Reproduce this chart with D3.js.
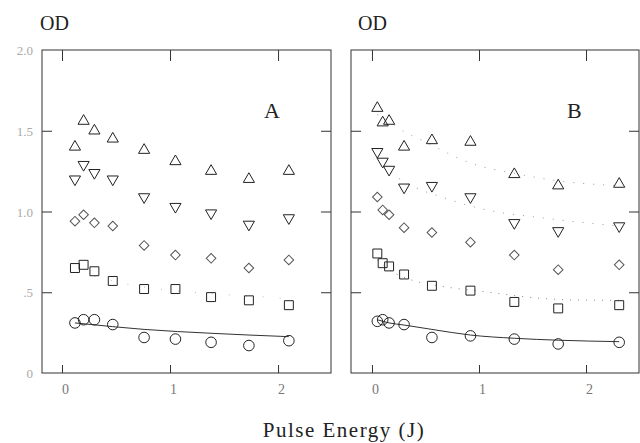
<!DOCTYPE html>
<html>
<head>
<meta charset="utf-8">
<script src="https://cdn.jsdelivr.net/npm/d3@7"></script>
<style>
  html, body { margin: 0; padding: 0; background: #fff; }
  svg { display: block; }
  text { font-family: "Liberation Serif", "DejaVu Serif", serif; }
</style>
</head>
<body>
<svg id="chart" width="640" height="443"></svg>
<script>
// Pulse energies (J) for each panel
const energyA = [0.12, 0.20, 0.30, 0.47, 0.76, 1.05, 1.38, 1.73, 2.10];
const energyB = [0.05, 0.10, 0.16, 0.30, 0.56, 0.92, 1.33, 1.74, 2.31];

// Optical density series, panel A
const triUpA    = [1.40, 1.56, 1.50, 1.45, 1.38, 1.31, 1.25, 1.20, 1.25];
const triDownA  = [1.20, 1.29, 1.24, 1.20, 1.09, 1.03, 0.99, 0.92, 0.96];
const diamondA  = [0.94, 0.98, 0.93, 0.91, 0.79, 0.73, 0.71, 0.65, 0.70];
const squareA   = [0.65, 0.67, 0.63, 0.57, 0.52, 0.52, 0.47, 0.45, 0.42];
const circleA   = [0.31, 0.33, 0.33, 0.30, 0.22, 0.21, 0.19, 0.17, 0.20];

// Optical density series, panel B
const triUpB    = [1.64, 1.55, 1.56, 1.40, 1.44, 1.43, 1.23, 1.16, 1.17];
const triDownB  = [1.37, 1.31, 1.26, 1.15, 1.16, 1.09, 0.93, 0.88, 0.91];
const diamondB  = [1.09, 1.01, 0.98, 0.90, 0.87, 0.81, 0.73, 0.64, 0.67];
const squareB   = [0.74, 0.68, 0.66, 0.61, 0.54, 0.51, 0.44, 0.40, 0.42];
const circleB   = [0.32, 0.33, 0.31, 0.30, 0.22, 0.23, 0.21, 0.18, 0.19];

// Fitted curves
const circleFitAx = [0.12, 0.47, 0.76, 1.38, 2.10];
const circleFitAy = [0.31, 0.287, 0.27, 0.246, 0.225];
const squareFitAx = [0.30, 0.60, 0.90, 1.40, 1.90, 2.10];
const squareFitAy = [0.60, 0.55, 0.52, 0.49, 0.47, 0.46];

const circleFitBx = [0.05, 0.16, 0.30, 0.56, 0.92, 1.33, 1.74, 2.31];
const circleFitBy = [0.33, 0.31, 0.297, 0.27, 0.235, 0.215, 0.203, 0.194];
const triUpFitBx  = [0.05, 0.16, 0.24, 0.50, 0.92, 1.38, 1.74, 2.31];
const triUpFitBy  = [1.60, 1.56, 1.52, 1.43, 1.30, 1.23, 1.19, 1.16];
const triDownFitBx = [0.05, 0.20, 0.40, 0.65, 1.00, 1.60, 2.31];
const triDownFitBy = [1.33, 1.23, 1.15, 1.09, 1.02, 0.96, 0.91];
const squareFitBx = [0.05, 0.16, 0.37, 0.68, 1.06, 1.55, 1.90, 2.31];
const squareFitBy = [0.70, 0.64, 0.576, 0.534, 0.503, 0.464, 0.452, 0.45];

// Axis ticks
const xTicks = [0, 1, 2];
const xTickLabels = ["0", "1", "2"];
const yTicks = [0, 0.5, 1.0, 1.5, 2.0];
const yTickLabels = ["0", ".5", "1.0", "1.5", "2.0"];

const svg = d3.select("#chart");
const ink = "#222";

const y = d3.scaleLinear().domain([0, 2]).range([373, 50]);

const panels = [
  {
    x: d3.scaleLinear().domain([-0.185, 2.49]).range([42, 331]),
    energy: energyA,
    series: [triUpA, triDownA, diamondA, squareA, circleA],
    solid: [[circleFitAx, circleFitAy]],
    dotted: [[squareFitAx, squareFitAy, "#bbb", "1,16"]],
    letter: "A", letterX: 264, odX: 40, yLabels: true
  },
  {
    x: d3.scaleLinear().domain([-0.196, 2.495]).range([351, 639]),
    energy: energyB,
    series: [triUpB, triDownB, diamondB, squareB, circleB],
    solid: [[circleFitBx, circleFitBy]],
    dotted: [
      [triUpFitBx, triUpFitBy, "#999", "1,9"],
      [triDownFitBx, triDownFitBy, "#999", "1,9"],
      [squareFitBx, squareFitBy, "#888", "1,7"]
    ],
    letter: "B", letterX: 567, odX: 358, yLabels: false
  }
];

// Marker shapes: up triangle, down triangle, diamond, square, circle
const shapes = [
  { type: d3.symbolTriangle, size: 54, rotate: 0, stroke: ink },
  { type: d3.symbolTriangle, size: 54, rotate: 180, stroke: ink },
  { type: d3.symbolSquare, size: 46, rotate: 45, stroke: "#555" },
  { type: d3.symbolSquare, size: 80, rotate: 0, stroke: ink },
  { type: d3.symbolCircle, size: 88, rotate: 0, stroke: ink }
];

panels.forEach(p => {
  const g = svg.append("g");
  const [x0, x1] = p.x.range();

  // frame
  g.append("rect")
    .attr("x", x0).attr("y", y(2))
    .attr("width", x1 - x0).attr("height", y(0) - y(2))
    .attr("fill", "none").attr("stroke", "#333").attr("stroke-width", 1);

  // x ticks (bottom and top, pointing inward)
  const xb = g.append("g").attr("transform", `translate(0,${y(0)})`)
    .call(d3.axisBottom(p.x).tickValues(xTicks).tickSizeInner(-8).tickSizeOuter(0)
      .tickPadding(11).tickFormat((d, i) => xTickLabels[i]));
  xb.select(".domain").remove();
  xb.selectAll("line").attr("stroke", "#333");
  xb.selectAll("text").attr("font-size", 14).attr("fill", "#777")
    .attr("font-family", "Liberation Serif, serif").attr("dx", 3);

  const xt = g.append("g").attr("transform", `translate(0,${y(2)})`)
    .call(d3.axisTop(p.x).tickValues(xTicks).tickSizeInner(-11).tickSizeOuter(0).tickFormat(""));
  xt.select(".domain").remove();
  xt.selectAll("line").attr("stroke", "#333");

  // y ticks (left and right, pointing inward)
  const yl = g.append("g").attr("transform", `translate(${x0},0)`)
    .call(d3.axisLeft(y).tickValues([0.5, 1.0, 1.5]).tickSizeInner(-10).tickSizeOuter(0).tickFormat(""));
  yl.select(".domain").remove();
  yl.selectAll("line").attr("stroke", "#333");

  const yr = g.append("g").attr("transform", `translate(${x1},0)`)
    .call(d3.axisRight(y).tickValues([0.5, 1.0, 1.5]).tickSizeInner(-10).tickSizeOuter(0).tickFormat(""));
  yr.select(".domain").remove();
  yr.selectAll("line").attr("stroke", "#333");

  if (p.yLabels) {
    g.append("g").selectAll("text").data(yTicks).join("text")
      .attr("x", 33).attr("y", d => y(d) + 5)
      .attr("text-anchor", "end").attr("font-size", 13).attr("fill", "#aaa")
      .text((d, i) => yTickLabels[i]);
  }

  // fitted curves
  const line = d3.line().x(d => p.x(d[0])).y(d => y(d[1])).curve(d3.curveMonotoneX);
  p.solid.forEach(([xs, ys]) => {
    g.append("path").datum(xs.map((v, i) => [v, ys[i]]))
      .attr("d", line).attr("fill", "none").attr("stroke", "#333").attr("stroke-width", 1);
  });
  p.dotted.forEach(([xs, ys, col, dash]) => {
    g.append("path").datum(xs.map((v, i) => [v, ys[i]]))
      .attr("d", line).attr("fill", "none").attr("stroke", col).attr("stroke-width", 1)
      .attr("stroke-dasharray", dash);
  });

  // markers
  p.series.forEach((vals, si) => {
    const s = shapes[si];
    const sym = d3.symbol().type(s.type).size(s.size);
    g.append("g").selectAll("path").data(vals).join("path")
      .attr("d", sym)
      .attr("transform", (d, i) => `translate(${p.x(p.energy[i])},${y(d)}) rotate(${s.rotate})`)
      .attr("fill", "none").attr("stroke", s.stroke).attr("stroke-width", 1);
  });

  // panel letter and axis title
  g.append("text").attr("x", p.letterX).attr("y", 118)
    .attr("font-size", 22).attr("fill", ink).text(p.letter);
  g.append("text").attr("x", p.odX).attr("y", 30)
    .attr("font-size", 20).attr("fill", ink).text("OD");
});

svg.append("text")
  .attr("x", 344).attr("y", 437).attr("text-anchor", "middle")
  .attr("font-size", 21).attr("letter-spacing", 1.5).attr("fill", ink)
  .text("Pulse Energy (J)");
</script>
</body>
</html>
